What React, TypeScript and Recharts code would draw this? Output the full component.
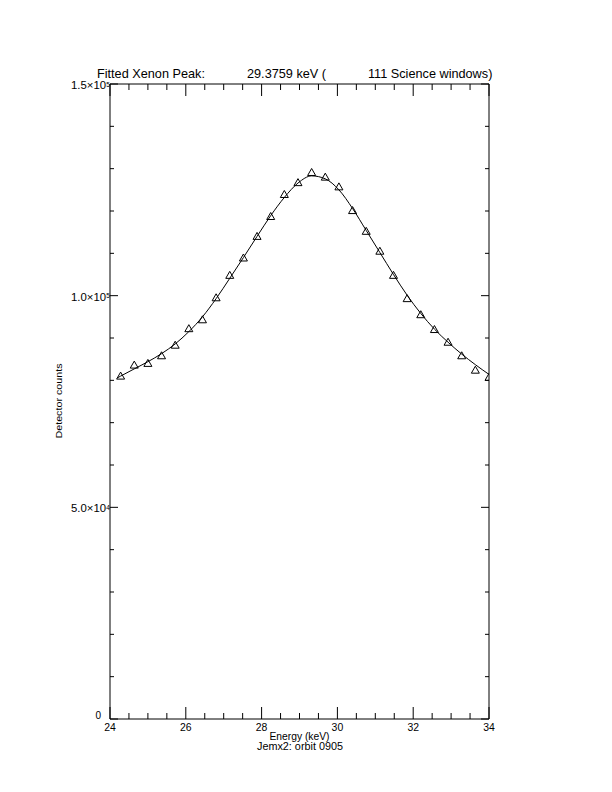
import React from "react";
import { ComposedChart, Line, Scatter, XAxis, YAxis } from "recharts";

// measured counts per energy bin (triangles)
const pointEnergy = [
  24.28, 24.64, 25.0, 25.36, 25.72, 26.08, 26.44, 26.8, 27.16, 27.52, 27.88, 28.24, 28.6, 28.96,
  29.32, 29.68, 30.04, 30.4, 30.76, 31.12, 31.48, 31.84, 32.2, 32.56, 32.92, 33.28, 33.64, 34.0,
];
const pointCounts = [
  81000, 83600, 84000, 85800, 88300, 92200, 94300, 99500, 104800, 108900, 114000, 118700, 123900, 126700,
  129100, 128000, 125700, 120100, 115200, 110500, 104800, 99300, 95500, 92000, 89000, 85800, 82400, 80700,
];

// fitted peak curve
const fitEnergy = [
  24.2, 24.28, 24.64, 25.0, 25.36, 25.72, 26.08, 26.44, 26.8, 27.16, 27.52, 27.88, 28.24, 28.6, 28.96,
  29.32, 29.68, 30.04, 30.4, 30.76, 31.12, 31.48, 31.84, 32.2, 32.56, 32.92, 33.28, 33.64, 34.0,
];
const fitCounts = [
  80600, 81000, 82700, 84400, 86300, 88600, 91500, 95000, 99300, 104100, 109000, 114000, 118900, 123200, 126600,
  128300, 127600, 125000, 120600, 115400, 110200, 105000, 100100, 95800, 92100, 89000, 86200, 83700, 81400,
];

const xTicks = [
  24, 24.5, 25, 25.5, 26, 26.5, 27, 27.5, 28, 28.5, 29, 29.5, 30, 30.5, 31, 31.5, 32, 32.5, 33, 33.5, 34,
];
const xLabelValues = [24, 26, 28, 30, 32, 34];
const xLabels = ["24", "26", "28", "30", "32", "34"];

const yTicks = [
  0, 10000, 20000, 30000, 40000, 50000, 60000, 70000, 80000, 90000, 100000, 110000, 120000, 130000, 140000, 150000,
];
const yLabelValues = [0, 50000, 100000, 150000];
const yMantissa = ["0", "5.0\u00d710", "1.0\u00d710", "1.5\u00d710"];
const yExponent = ["", "4", "5", "5"];

const titleParts = ["Fitted Xenon Peak:", "29.3759 keV (", "111 Science windows)"];
const xTitle = "Energy (keV)";
const subTitle = "Jemx2: orbit 0905";
const yTitle = "Detector counts";

const fitData = fitEnergy.map((e, i) => ({ e, counts: fitCounts[i] }));
const pointData = pointEnergy.map((e, i) => ({ e, counts: pointCounts[i] }));

const FONT = "'Liberation Sans', Arial, sans-serif";

const near = (a: number, b: number) => Math.abs(a - b) < 1e-6;

function BottomTick(props: any) {
  const { x, y, payload } = props;
  const idx = xLabelValues.findIndex((v) => near(v, payload.value));
  const major = idx >= 0;
  return (
    <g>
      <line x1={x} y1={y} x2={x} y2={y - (major ? 12 : 6)} stroke="#000" />
      {major && (
        <text x={x} y={y + 12} textAnchor="middle" fontSize={10} fontFamily={FONT} fill="#000"
          textLength={xLabels[idx].length * 5.8} lengthAdjust="spacingAndGlyphs">
          {xLabels[idx]}
        </text>
      )}
    </g>
  );
}

function TopTick(props: any) {
  const { x, y, payload } = props;
  const major = xLabelValues.some((v) => near(v, payload.value));
  return <line x1={x} y1={y} x2={x} y2={y + (major ? 12 : 6)} stroke="#000" />;
}

function LeftTick(props: any) {
  const { x, y, payload } = props;
  const idx = yLabelValues.findIndex((v) => near(v, payload.value));
  const major = idx >= 0;
  return (
    <g>
      <line x1={x} y1={y} x2={x + (major ? 8 : 4)} y2={y} stroke="#000" />
      {major && idx === 0 && (
        <text x={x - 9} y={y} textAnchor="end" fontSize={10} fontFamily={FONT} fill="#000">
          0
        </text>
      )}
      {major && idx > 0 && (
        <g>
          <text x={x - 4} y={y + 5} textAnchor="end" fontSize={10} fontFamily={FONT} fill="#000"
            textLength={35} lengthAdjust="spacingAndGlyphs">
            {yMantissa[idx]}
          </text>
          <text x={x - 3.8} y={y + 2.5} textAnchor="start" fontSize={6.5} fontFamily={FONT} fill="#000">
            {yExponent[idx]}
          </text>
        </g>
      )}
    </g>
  );
}

function RightTick(props: any) {
  const { x, y, payload } = props;
  const major = yLabelValues.some((v) => near(v, payload.value));
  return <line x1={x} y1={y} x2={x - (major ? 8 : 4)} y2={y} stroke="#000" />;
}

function Triangle(props: any) {
  const { cx, cy } = props;
  if (cx == null || cy == null) return null;
  return (
    <polygon
      points={`${cx - 4},${cy + 3} ${cx + 4},${cy + 3} ${cx},${cy - 4}`}
      fill="none"
      stroke="#000"
      strokeWidth={1}
    />
  );
}

export default function App() {
  return (
    <div style={{ position: "absolute", left: 0, top: 0, width: 612, height: 792, background: "#fff" }}>
      <ComposedChart
        width={612}
        height={792}
        data={fitData}
        margin={{ top: 74, right: 113, bottom: 33, left: 50 }}
      >
        <XAxis
          xAxisId="bottom"
          dataKey="e"
          type="number"
          domain={[24, 34]}
          ticks={xTicks}
          interval={0}
          allowDataOverflow
          height={40}
          tickSize={0}
          tickMargin={0}
          tickLine={false}
          axisLine={{ stroke: "#000" }}
          tick={<BottomTick />}
          label={(p: any) => {
            const vb = p && p.viewBox ? p.viewBox : { x: 110, y: 719, width: 379 };
            return (
              <text x={vb.x + vb.width / 2} y={vb.y + 21} textAnchor="middle" fontSize={10}
                fontFamily={FONT} fill="#000" textLength={60} lengthAdjust="spacingAndGlyphs">
                {xTitle}
              </text>
            );
          }}
        />
        <XAxis
          xAxisId="top"
          orientation="top"
          dataKey="e"
          type="number"
          domain={[24, 34]}
          ticks={xTicks}
          interval={0}
          allowDataOverflow
          height={10}
          tickSize={0}
          tickMargin={0}
          tickLine={false}
          axisLine={{ stroke: "#000" }}
          tick={<TopTick />}
        />
        <YAxis
          yAxisId="left"
          type="number"
          domain={[0, 150000]}
          ticks={yTicks}
          interval={0}
          allowDataOverflow
          width={60}
          tickSize={0}
          tickMargin={0}
          tickLine={false}
          axisLine={{ stroke: "#000" }}
          tick={<LeftTick />}
        />
        <YAxis
          yAxisId="right"
          orientation="right"
          type="number"
          domain={[0, 150000]}
          ticks={yTicks}
          interval={0}
          allowDataOverflow
          width={10}
          tickSize={0}
          tickMargin={0}
          tickLine={false}
          axisLine={{ stroke: "#000" }}
          tick={<RightTick />}
        />
        <Line
          xAxisId="bottom"
          yAxisId="left"
          type="monotone"
          dataKey="counts"
          stroke="#000"
          strokeWidth={1}
          dot={false}
          activeDot={false}
          isAnimationActive={false}
        />
        <Scatter
          xAxisId="bottom"
          yAxisId="left"
          data={pointData}
          dataKey="counts"
          shape={<Triangle />}
          isAnimationActive={false}
        />
      </ComposedChart>
      <svg
        width={612}
        height={792}
        style={{ position: "absolute", left: 0, top: 0, pointerEvents: "none" }}
      >
        <g fontFamily={FONT} fontSize={12.7} fill="#000">
          <text x={97} y={77.5}>{titleParts[0]}</text>
          <text x={247} y={77.5}>{titleParts[1]}</text>
          <text x={368} y={77.5}>{titleParts[2]}</text>
        </g>
        <text x={300} y={750} textAnchor="middle" fontSize={10} fontFamily={FONT} fill="#000"
          textLength={86} lengthAdjust="spacingAndGlyphs">
          {subTitle}
        </text>
        <text
          x={0}
          y={0}
          transform="translate(62, 401) rotate(-90)"
          textAnchor="middle"
          fontSize={9.5}
          fontFamily={FONT}
          fill="#000"
          textLength={75}
          lengthAdjust="spacingAndGlyphs"
        >
          {yTitle}
        </text>
      </svg>
    </div>
  );
}
